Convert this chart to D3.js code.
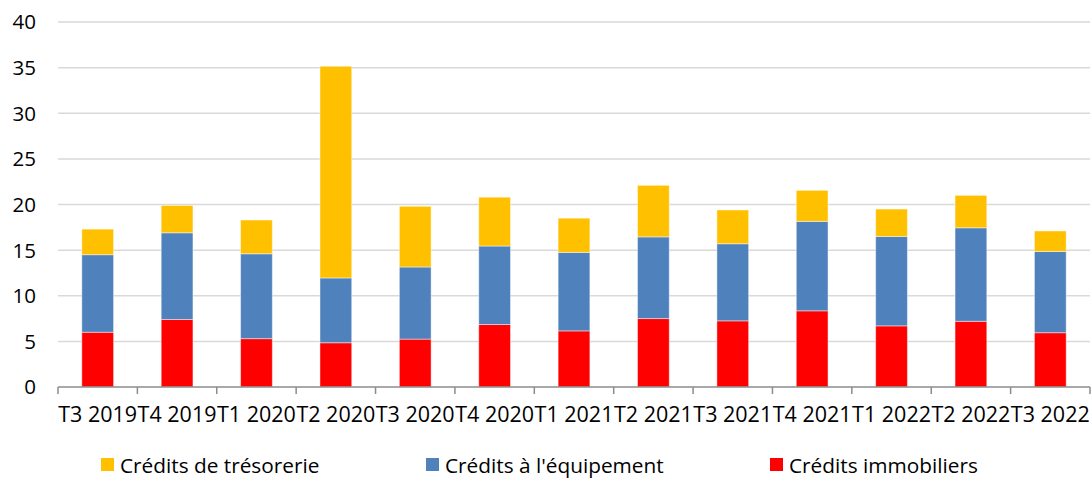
<!DOCTYPE html>
<html>
<head>
<meta charset="utf-8">
<script src="https://cdn.jsdelivr.net/npm/d3@7"></script>
<style>
  body { margin: 0; background: #fff; }
  text { font-family: "Open Sans", sans-serif; fill: #000; }
</style>
</head>
<body>
<div class="chart"></div>
<script>
const quarters = ['T3 2019', 'T4 2019', 'T1 2020', 'T2 2020', 'T3 2020', 'T4 2020', 'T1 2021', 'T2 2021', 'T3 2021', 'T4 2021', 'T1 2022', 'T2 2022', 'T3 2022']
const immobiliers = [6.0, 7.4, 5.3, 4.85, 5.25, 6.85, 6.15, 7.5, 7.25, 8.35, 6.7, 7.2, 5.95]
const equipement = [8.5, 9.5, 9.3, 7.1, 7.9, 8.6, 8.6, 8.95, 8.45, 9.8, 9.8, 10.25, 8.9]
const tresorerie = [2.8, 3.0, 3.7, 23.2, 6.65, 5.35, 3.75, 5.65, 3.7, 3.4, 3.0, 3.55, 2.25]
const yTicks = [0, 5, 10, 15, 20, 25, 30, 35, 40]

const series = [
  { key: 'immo', name: 'Crédits immobiliers', values: immobiliers, color: '#FF0000' },
  { key: 'equip', name: "Crédits à l'équipement", values: equipement, color: '#4F81BD' },
  { key: 'treso', name: 'Crédits de trésorerie', values: tresorerie, color: '#FFC000' },
]

createChart()

function createChart() {
  const width = 1091
  const height = 478
  const margin = { left: 58, right: 1, top: 22, bottom: 91 }

  const svg = d3.select('.chart')
    .append('svg')
    .attr('width', width)
    .attr('height', height)

  const x = d3.scaleBand()
    .domain(quarters)
    .range([margin.left, width - margin.right])
    .paddingInner(0.6)
    .paddingOuter(0.3)

  const y = d3.scaleLinear()
    .domain([0, 40])
    .range([height - margin.bottom, margin.top])

  // grid
  svg.append('g')
    .selectAll('line')
    .data(yTicks.slice(1))
    .enter()
    .append('line')
    .attr('x1', margin.left)
    .attr('x2', width - margin.right)
    .attr('y1', (d) => y(d))
    .attr('y2', (d) => y(d))
    .attr('stroke', '#d9d9d9')
    .attr('stroke-width', 1.5)

  // y labels
  svg.append('g')
    .selectAll('text')
    .data(yTicks)
    .enter()
    .append('text')
    .attr('x', 36)
    .attr('y', (d) => y(d))
    .attr('dy', '0.36em')
    .attr('text-anchor', 'end')
    .style('font-size', '20.5px')
    .text((d) => d)

  // stacked bars
  const rows = quarters.map((q, i) => {
    const r = { q }
    series.forEach((s) => { r[s.key] = s.values[i] })
    return r
  })
  const stacked = d3.stack().keys(series.map((s) => s.key))(rows)

  svg.append('g')
    .selectAll('g')
    .data(stacked)
    .enter()
    .append('g')
    .attr('fill', (d, i) => series[i].color)
    .selectAll('rect')
    .data((d) => d)
    .enter()
    .append('rect')
    .attr('x', (d) => x(d.data.q))
    .attr('width', x.bandwidth())
    .attr('y', (d) => y(d[1]))
    .attr('height', (d) => y(d[0]) - y(d[1]))
    .attr('stroke', 'rgba(255,255,255,0.45)')
    .attr('stroke-width', 1)

  // x axis
  const axisY = y(0)
  const axis = svg.append('g')
  axis.append('line')
    .attr('x1', margin.left)
    .attr('x2', width - margin.right)
    .attr('y1', axisY)
    .attr('y2', axisY)
    .attr('stroke', '#8c8c8c')
    .attr('stroke-width', 1.5)

  const tickX = (i) => margin.left + i * (width - margin.left - margin.right) / quarters.length
  axis.selectAll('.tick')
    .data(d3.range(quarters.length + 1))
    .enter()
    .append('line')
    .attr('x1', tickX)
    .attr('x2', tickX)
    .attr('y1', axisY)
    .attr('y2', axisY + 7)
    .attr('stroke', '#8c8c8c')
    .attr('stroke-width', 1.5)

  axis.selectAll('text')
    .data(quarters)
    .enter()
    .append('text')
    .attr('x', (d) => x(d) + x.bandwidth() / 2)
    .attr('y', axisY + 27)
    .attr('dy', '0.36em')
    .attr('text-anchor', 'middle')
    .style('font-size', '21.5px')
    .text((d) => d)

  // legend
  const legendItems = [
    { s: series[2], x: 101 },
    { s: series[1], x: 426 },
    { s: series[0], x: 770 },
  ]
  const lg = svg.append('g')
    .selectAll('g')
    .data(legendItems)
    .enter()
    .append('g')
    .attr('transform', (d) => `translate(${d.x},465)`)

  lg.append('rect')
    .attr('x', 0)
    .attr('y', -7)
    .attr('width', 13)
    .attr('height', 13)
    .attr('fill', (d) => d.s.color)

  lg.append('text')
    .attr('x', 19)
    .attr('y', 0)
    .attr('dy', '0.36em')
    .style('font-size', '20.8px')
    .text((d) => d.s.name)
}
</script>
</body>
</html>
